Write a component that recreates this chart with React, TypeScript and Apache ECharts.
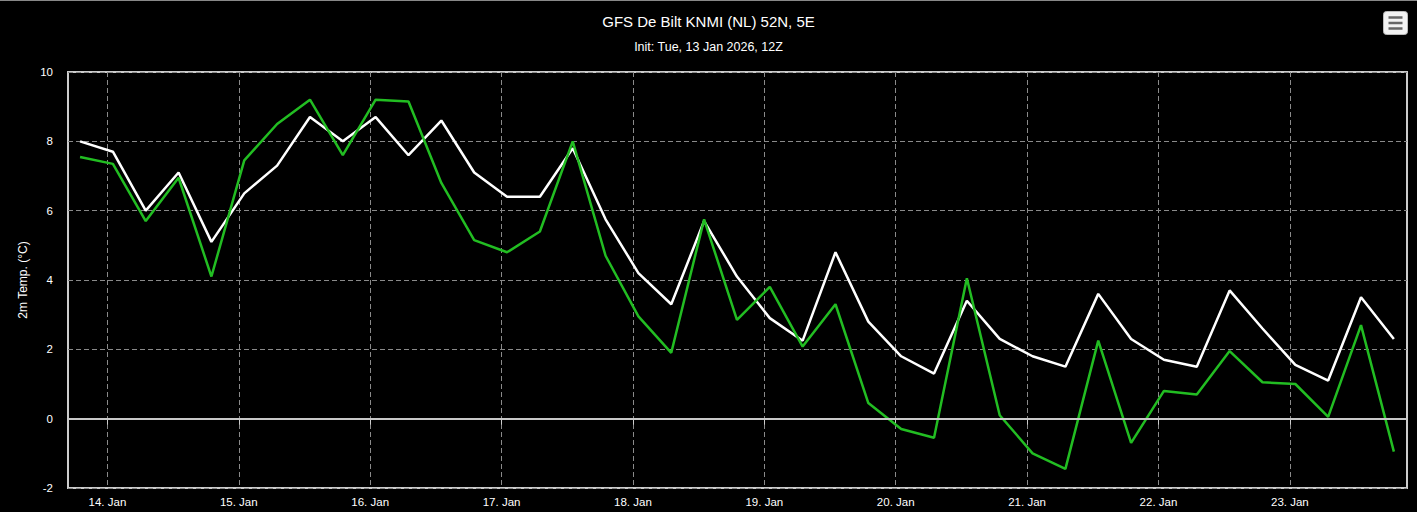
import React, { useEffect, useRef } from "react";
import * as echarts from "echarts";

// hours relative to 14 Jan 00:00 (local), 6-hourly from 13 Jan 19:00
const hourOffsets = [
  -5, 1, 7, 13, 19, 25, 31, 37, 43, 49, 55, 61, 67, 73, 79, 85, 91, 97, 103, 109,
  115, 121, 127, 133, 139, 145, 151, 157, 163, 169, 175, 181, 187, 193, 199, 205,
  211, 217, 223, 229, 235,
];

const whiteSeries = [
  8.0, 7.7, 6.0, 7.1, 5.1, 6.5, 7.3, 8.7, 8.0, 8.7, 7.6, 8.6, 7.1, 6.4, 6.4, 7.8,
  5.75, 4.2, 3.3, 5.7, 4.1, 2.9, 2.25, 4.8, 2.8, 1.8, 1.3, 3.4, 2.3, 1.8, 1.5, 3.6,
  2.3, 1.7, 1.5, 3.7, 2.6, 1.55, 1.1, 3.5, 2.3,
];

const greenSeries = [
  7.55, 7.35, 5.7, 6.95, 4.1, 7.45, 8.5, 9.2, 7.6, 9.2, 9.15, 6.8, 5.15, 4.8, 5.4,
  8.0, 4.7, 2.95, 1.9, 5.75, 2.85, 3.8, 2.08, 3.3, 0.45, -0.3, -0.55, 4.05, 0.1,
  -1.0, -1.45, 2.25, -0.7, 0.8, 0.7, 1.95, 1.05, 1.0, 0.05, 2.7, -0.95,
];

const dayTickHours = [0, 24, 48, 72, 96, 120, 144, 168, 192, 216];
const dayTickLabels = ["14. Jan", "15. Jan", "16. Jan", "17. Jan", "18. Jan", "19. Jan", "20. Jan", "21. Jan", "22. Jan", "23. Jan"];

const titleText = "GFS De Bilt KNMI (NL) 52N, 5E";
const subtitleText = "Init: Tue, 13 Jan 2026, 12Z";
const yAxisName = "2m Temp. (°C)";

const FONT = "'Liberation Sans', Arial, sans-serif";

export default function App() {
  const ref = useRef<HTMLDivElement>(null);

  useEffect(() => {
    if (!ref.current) return;
    const chart = echarts.init(ref.current, null, { renderer: "svg" });
    const white = hourOffsets.map((h, i) => [h, whiteSeries[i]]);
    const green = hourOffsets.map((h, i) => [h, greenSeries[i]]);
    chart.setOption({
      animation: false,
      backgroundColor: "#000",
      textStyle: { fontFamily: FONT },
      title: {
        text: titleText,
        subtext: subtitleText,
        left: "center",
        top: 9,
        itemGap: 11,
        textStyle: { color: "#fff", fontSize: 15, fontWeight: "normal", fontFamily: FONT },
        subtextStyle: { color: "#fff", fontSize: 12.5, fontFamily: FONT },
      },
      grid: {
        left: 68,
        top: 72,
        right: 10,
        bottom: 24,
        show: true,
        borderColor: "#cccccc",
        borderWidth: 2,
        backgroundColor: "transparent",
      },
      xAxis: {
        type: "value",
        min: -7.2,
        max: 237.4,
        axisLine: { show: false },
        axisTick: {
          show: true,
          length: 6,
          lineStyle: { color: "#cccccc", width: 1 },
          customValues: dayTickHours,
        },
        axisLabel: {
          color: "#fff",
          fontSize: 11.5,
          margin: 8,
          fontFamily: FONT,
          customValues: dayTickHours,
          formatter: (v: number) => {
            const idx = dayTickHours.indexOf(Math.round(v));
            return idx >= 0 ? dayTickLabels[idx] : "";
          },
        },
        splitLine: {
          show: true,
          lineStyle: { color: "#8a8a8a", width: 1, type: [5, 3] },
        },
      },
      yAxis: {
        type: "value",
        min: -2,
        max: 10,
        interval: 2,
        name: yAxisName,
        nameLocation: "middle",
        nameGap: 39,
        nameRotate: 90,
        nameTextStyle: { color: "#fff", fontSize: 12, fontFamily: FONT },
        axisLine: { show: false },
        axisTick: { show: false },
        axisLabel: { color: "#fff", fontSize: 11.5, margin: 15, fontFamily: FONT },
        splitLine: {
          show: true,
          lineStyle: { color: "#8a8a8a", width: 1, type: [5, 3] },
        },
      },
      series: [
        {
          type: "line",
          data: white,
          symbol: "none",
          lineStyle: { color: "#ffffff", width: 2.5 },
          itemStyle: { color: "#ffffff" },
          z: 2,
          markLine: {
            silent: true,
            symbol: ["none", "none"],
            label: { show: false },
            lineStyle: { color: "#c8c8c8", width: 2, type: "solid" },
            data: [{ yAxis: 0 }],
          },
        },
        {
          type: "line",
          data: green,
          symbol: "none",
          lineStyle: { color: "#22bd22", width: 2.5 },
          itemStyle: { color: "#22bd22" },
          z: 3,
        },
      ],
      graphic: [
        {
          type: "line",
          shape: { x1: 0, y1: 0.5, x2: 1417, y2: 0.5 },
          style: { stroke: "#888", lineWidth: 1 },
          silent: true,
        },
        {
          type: "group",
          left: 1383,
          top: 11,
          children: [
            {
              type: "rect",
              shape: { x: 0, y: 0, width: 24, height: 23, r: 3 },
              style: { fill: "#f2f2f2", stroke: "#bbb", lineWidth: 1 },
            },
            { type: "line", shape: { x1: 5, y1: 6, x2: 19, y2: 6 }, style: { stroke: "#666", lineWidth: 2.5 } },
            { type: "line", shape: { x1: 5, y1: 11.5, x2: 19, y2: 11.5 }, style: { stroke: "#666", lineWidth: 2.5 } },
            { type: "line", shape: { x1: 5, y1: 17, x2: 19, y2: 17 }, style: { stroke: "#666", lineWidth: 2.5 } },
          ],
        },
      ],
    });
    return () => chart.dispose();
  }, []);

  return (
    <div
      ref={ref}
      style={{ position: "fixed", left: 0, top: 0, width: 1417, height: 512, background: "#000" }}
    />
  );
}
